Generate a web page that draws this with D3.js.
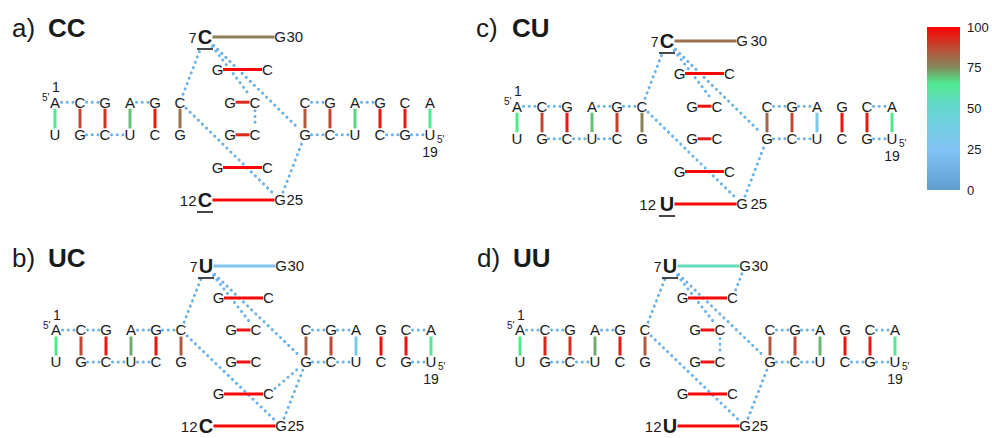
<!DOCTYPE html>
<html><head><meta charset="utf-8">
<script src="https://cdn.jsdelivr.net/npm/d3@7"></script>
<style>
body{margin:0;background:#fff;}
svg text{font-family:"Liberation Sans",Arial,Helvetica,sans-serif;fill:#1a1a1a;}
</style></head><body>
<svg id="chart" width="992" height="438"></svg>
<script>
// ---------------- data ----------------
const panelLabels = ['a)', 'b)', 'c)', 'd)'];
const panelNames  = ['CC', 'UC', 'CU', 'UU'];
const base7  = ['C', 'U', 'C', 'U'];
const base12 = ['C', 'C', 'U', 'U'];
const underline7  = [true, true, true, true];
const underline12 = [true, false, true, false];

const topLeftSeq     = ['A','C','G','A','G','C'];   // residues 1-6
const botLeftSeq     = ['U','G','C','U','C','G'];   // residues 36-31 (left to right)
const topRightSeq    = ['C','G','A','G','C','A'];   // residues 13-18
const botRightSeq    = ['G','C','U','C','G','U'];   // residues 24-19 (left to right)
const centerLeftSeq  = ['G','G','G','G'];           // residues 8-11
const centerRightSeq = ['C','C','C','C'];           // residues 29-26
const centerRightTop = 'G';   // residue 30
const centerRightBot = 'G';   // residue 25

// pair occupancy (%), panels a, b, c, d
// left stem pairs 1-36, 2-35, 3-34, 4-33, 5-32, 6-31
const leftPairValues = [
  [66, 88, 92, 70, 96, 80],
  [66, 88, 96, 72, 97, 84],
  [66, 88, 96, 70, 90, 77],
  [66, 95, 92, 72, 96, 85]
];
// center pairs 7-30, 8-29, 9-28, 10-27, 11-26, 12-25
const centerPairValues = [
  [77, 99, 93, 93, 99, 98],
  [27, 99, 97, 97, 99, 99],
  [80, 99, 97, 95, 99, 99],
  [55, 99, 97, 96, 99, 99]
];
// right stem pairs 13-24, 14-23, 15-22, 16-21, 17-20, 18-19
const rightPairValues = [
  [85, 88, 68, 97, 96, 65],
  [83, 88, 35, 98, 97, 64],
  [82, 88, 30, 97, 96, 65],
  [84, 88, 71, 97, 96, 65]
];

// stacking contacts (residue pairs), panels a, b, c, d
const stacks = [
  [[1,2],[2,3],[4,5],[35,34],[34,33],[13,14],[15,16],[24,23],[23,22],[21,20],[20,19],
   [6,7],[6,25],[7,28],[7,24],[28,27],[25,24]],
  [[1,2],[2,3],[4,5],[5,6],[35,34],[34,33],[33,32],[13,14],[14,15],[17,18],[24,23],[23,22],[20,19],
   [6,7],[6,25],[7,28],[7,24],[26,24],[25,24]],
  [[1,2],[2,3],[4,5],[5,6],[35,34],[34,33],[33,32],[13,14],[14,15],[17,18],[24,23],[23,22],[20,19],
   [6,7],[6,25],[7,28],[7,24],[25,24]],
  [[1,2],[2,3],[4,5],[35,34],[34,33],[13,14],[14,15],[17,18],[24,23],[23,22],[21,20],[20,19],
   [6,7],[6,25],[7,28],[7,24],[30,29],[28,27],[25,24]]
];

const colorTicks = [0, 25, 50, 75, 100];

// ---------------- scales / layout ----------------
const svg = d3.select('#chart');
const color = d3.scaleLinear()
  .domain([0, 25, 50, 66, 75, 85, 100])
  .range(['#5f9dcf', '#80c3f4', '#66d5d2', '#4fea8c', '#808b5c', '#b3573d', '#ff0000'])
  .interpolate(d3.interpolateRgb);

const xU = d3.scaleLinear().domain([0, 30]).range([55, 430]);
const panelOffX = [0, 1, 462, 465];
const panelOffY = [0, 229, 4, 229];
const panelRowEnd = [200, 197, 200, 197];
const yRows = panelRowEnd.map(e => d3.scaleLinear().domain([0, 5]).range([37, e]));
const titleX = [12, 12, 476, 477];
const titleY = [37, 267, 37, 267];

const FS = 15;      // regular letter size
const BFS = 20;     // bold letter size

function residue(n, p) {
  if (n >= 1 && n <= 6) return {u: 2 * (n - 1), r: 2, b: topLeftSeq[n - 1]};
  if (n === 7) return {u: 12, r: 0, b: base7[p], bold: true};
  if (n >= 8 && n <= 11) return {u: [13, 14, 14, 13][n - 8], r: n - 7, b: centerLeftSeq[n - 8]};
  if (n === 12) return {u: 12, r: 5, b: base12[p], bold: true};
  if (n >= 13 && n <= 18) return {u: 20 + 2 * (n - 13), r: 2, b: topRightSeq[n - 13]};
  if (n >= 19 && n <= 24) return {u: 30 - 2 * (n - 19), r: 3, b: botRightSeq[24 - n]};
  if (n === 25) return {u: 18, r: 5, b: centerRightBot};
  if (n >= 26 && n <= 29) return {u: [17, 16, 16, 17][n - 26], r: 30 - n, b: centerRightSeq[29 - n]};
  if (n === 30) return {u: 18, r: 0, b: centerRightTop};
  if (n >= 31 && n <= 36) return {u: 10 - 2 * (n - 31), r: 3, b: botLeftSeq[36 - n]};
}
const pos = (n, p) => { const d = residue(n, p); return [xU(d.u), yRows[p](d.r)]; };

// colorbar gradient
const defs = svg.append('defs');
const grad = defs.append('linearGradient').attr('id', 'cb')
  .attr('x1', 0).attr('y1', 1).attr('x2', 0).attr('y2', 0);
d3.range(0, 101, 5).forEach(v => grad.append('stop').attr('offset', v / 100).attr('stop-color', color(v)));

for (let p = 0; p < 4; p++) {
  // title
  const t = svg.append('g');
  t.append('text').attr('x', titleX[p]).attr('y', titleY[p]).attr('font-size', 26).text(panelLabels[p]);
  t.append('text').attr('x', titleX[p] + 36).attr('y', titleY[p]).attr('font-size', 26)
    .attr('font-weight', 'bold').text(panelNames[p]);

  const g = svg.append('g').attr('transform', `translate(${panelOffX[p]},${panelOffY[p]})`);

  // stacking dots
  stacks[p].forEach(([a, b]) => {
    const A = pos(a, p), B = pos(b, p);
    const ra = residue(a, p), rb = residue(b, p);
    const dx = B[0] - A[0], dy = B[1] - A[1], L = Math.hypot(dx, dy);
    const horiz = Math.abs(dy) < 1;
    const sa = horiz ? 6.5 : (ra.bold ? 12 : 8.5);
    const sb = horiz ? 6.5 : (rb.bold ? 12 : 8.5);
    g.append('line')
      .attr('x1', A[0] + dx / L * sa).attr('y1', A[1] + dy / L * sa)
      .attr('x2', B[0] - dx / L * sb).attr('y2', B[1] - dy / L * sb)
      .attr('stroke', '#6cb2e4').attr('stroke-width', 3)
      .attr('stroke-linecap', 'round').attr('stroke-dasharray', '0.1 5.6');
  });

  // vertical stem pairs
  const vPairs = [];
  for (let i = 0; i < 6; i++) {
    vPairs.push({a: 1 + i, b: 36 - i, v: leftPairValues[p][i]});
    vPairs.push({a: 13 + i, b: 24 - i, v: rightPairValues[p][i]});
  }
  vPairs.forEach(d => {
    const A = pos(d.a, p), B = pos(d.b, p);
    g.append('line').attr('x1', A[0]).attr('x2', B[0])
      .attr('y1', A[1] + 6.5).attr('y2', B[1] - 6.5)
      .attr('stroke', color(d.v)).attr('stroke-width', 3);
  });

  // center horizontal pairs
  for (let k = 0; k < 6; k++) {
    const a = 7 + k, b = 30 - k;
    const A = pos(a, p), B = pos(b, p);
    const wa = residue(a, p).bold ? 7.5 : 5.5;
    g.append('line').attr('x1', A[0] + wa).attr('x2', B[0] - 5.5)
      .attr('y1', A[1]).attr('y2', B[1])
      .attr('stroke', color(centerPairValues[p][k])).attr('stroke-width', 3);
  }

  // letters
  for (let n = 1; n <= 36; n++) {
    const d = residue(n, p), P = pos(n, p);
    const fs = d.bold ? BFS : FS;
    g.append('text').attr('x', P[0]).attr('y', P[1] + fs * 0.358)
      .attr('text-anchor', 'middle').attr('font-size', fs)
      .attr('font-weight', d.bold ? 'bold' : 'normal').text(d.b);
  }

  // numbering / ends
  const p1 = pos(1, p), p7 = pos(7, p), p12 = pos(12, p), p30 = pos(30, p), p25 = pos(25, p), p19 = pos(19, p);
  g.append('text').attr('x', p1[0] + 1).attr('y', p1[1] - 10.5).attr('text-anchor', 'middle').attr('font-size', 14).text('1');
  g.append('text').attr('x', p1[0] - 5.5).attr('y', p1[1] - 1).attr('text-anchor', 'end').attr('font-size', 10).text("5'");
  g.append('text').attr('x', p19[0] + 7).attr('y', p19[1] + 8).attr('font-size', 10).text("5'");
  g.append('text').attr('x', p19[0]).attr('y', p19[1] + 22).attr('text-anchor', 'middle').attr('font-size', 14).text('19');
  g.append('text').attr('x', p7[0] - 8.5).attr('y', p7[1] + 6).attr('text-anchor', 'end').attr('font-size', 14).text('7');
  g.append('text').attr('x', p12[0] - (p === 2 ? 11 : 8.5)).attr('y', p12[1] + 6).attr('text-anchor', 'end').attr('font-size', 15).text('12');
  const gap = p === 2 ? 3 : 1;
  g.append('text').attr('x', p30[0] + 5.5 + gap).attr('y', p30[1] + 5.4).attr('font-size', 15).text('30');
  g.append('text').attr('x', p25[0] + 5.5 + gap).attr('y', p25[1] + 5.4).attr('font-size', 15).text('25');
  if (underline7[p]) g.append('line').attr('x1', p7[0] - 8).attr('x2', p7[0] + 8)
    .attr('y1', p7[1] + 12).attr('y2', p7[1] + 12).attr('stroke', '#1a1a1a').attr('stroke-width', 1.6);
  if (underline12[p]) g.append('line').attr('x1', p12[0] - 8).attr('x2', p12[0] + 8)
    .attr('y1', p12[1] + 12).attr('y2', p12[1] + 12).attr('stroke', '#1a1a1a').attr('stroke-width', 1.6);
}

// colorbar
const cbY = d3.scaleLinear().domain([0, 100]).range([190, 27]);
svg.append('rect').attr('x', 927).attr('y', cbY(100)).attr('width', 33)
  .attr('height', cbY(0) - cbY(100)).attr('fill', 'url(#cb)');
svg.selectAll('.cbt').data(colorTicks).enter().append('text')
  .attr('x', 967).attr('y', d => cbY(d) + 4.6).attr('font-size', 13).text(d => d);
</script>
</body></html>
